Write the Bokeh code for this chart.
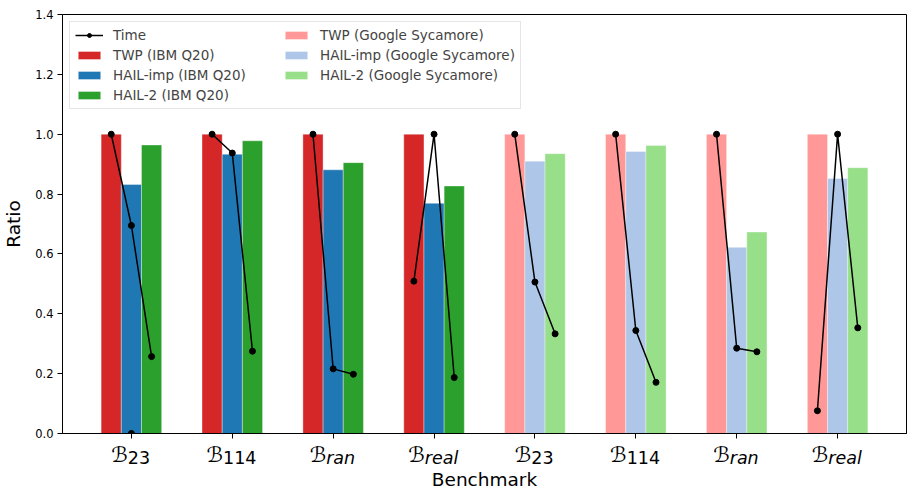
import numpy as np
from bokeh.plotting import figure
from bokeh.layouts import column
from bokeh.models import ColumnDataSource, FixedTicker, Legend, LegendItem, Range1d
from bokeh.core.properties import value
from bokeh.transform import dodge
from bokeh.embed import file_html
from bokeh.resources import INLINE

# ---- data ----
bench_main = ["ℬ"] * 8
bench_sub = ["23", "114", "ran", "real", "23", "114", "ran", "real"]
device = ["IBM Q20"] * 4 + ["Google Sycamore"] * 4
twp = [1.0, 1.0, 1.0, 1.0, 1.0, 1.0, 1.0, 1.0]
hail_imp = [0.832, 0.933, 0.881, 0.769, 0.910, 0.942, 0.622, 0.852]
hail_2 = [0.964, 0.978, 0.905, 0.827, 0.935, 0.962, 0.673, 0.888]
time_twp = [1.0, 1.0, 1.0, 0.509, 1.0, 1.0, 1.0, 0.076]
time_imp = [0.695, 0.937, 0.216, 1.0, 0.506, 0.344, 0.285, 1.0]
time_h2 = [0.257, 0.275, 0.198, 0.187, 0.333, 0.171, 0.273, 0.353]
time_legend_point = ([0], [0.0])
y_ticks = [0.0, 0.2, 0.4, 0.6, 0.8, 1.0, 1.2, 1.4]
x_label = "Benchmark"
y_label = "Ratio"

colors_ibm = ["#d62728", "#1f77b4", "#2ca02c"]
colors_google = ["#ff9896", "#aec7e8", "#98df8a"]
methods = ["TWP", "HAIL-imp", "HAIL-2"]
offsets = [-0.2, 0.0, 0.2]
bar_w = 0.2

idx = list(range(len(bench_sub)))
FONT = "DejaVu Sans"
XR = Range1d(-0.683, 7.683)

p = figure(title=None, frame_width=844, frame_height=419, output_backend="svg",
           toolbar_location=None, x_range=XR, y_range=Range1d(0, 1.4),
           min_border_left=53, min_border_right=1, min_border_top=14, min_border_bottom=8)
p.background_fill_color = "white"
p.outline_line_color = "black"
p.outline_line_width = 1
p.xgrid.visible = False
p.ygrid.visible = False

series_cols = ["twp", "imp", "h2"]
bar_items = {}
for dev, cols in [("IBM Q20", colors_ibm), ("Google Sycamore", colors_google)]:
    rows = [i for i in idx if device[i] == dev]
    sub = ColumnDataSource(dict(x=[idx[i] for i in rows],
                                twp=[twp[i] for i in rows],
                                imp=[hail_imp[i] for i in rows],
                                h2=[hail_2[i] for i in rows]))
    for m, col, off, c in zip(methods, series_cols, offsets, cols):
        r = p.vbar(x=dodge("x", off, range=p.x_range), top=col, width=bar_w, bottom=0,
                   source=sub, fill_color=c, line_color="white", line_alpha=0.35, line_width=1)
        bar_items[(m, dev)] = r

# time lines per benchmark
xs, ys = [], []
for i in idx:
    xs.append([i + o for o in offsets])
    ys.append([time_twp[i], time_imp[i], time_h2[i]])
p.multi_line(xs=xs, ys=ys, line_color="black", line_width=1.5)
px = [x for row in xs for x in row]
py = [y for row in ys for y in row]
p.scatter(x=px, y=py, size=6, fill_color="black", line_color="black")
lp = p.line(x=time_legend_point[0], y=time_legend_point[1], line_color="black", line_width=1.5)
lps = p.scatter(x=time_legend_point[0], y=time_legend_point[1], size=6,
                fill_color="black", line_color="black")

items = [LegendItem(label="Time", renderers=[lp, lps])]
for dev in ["IBM Q20", "Google Sycamore"]:
    for m in methods:
        items.append(LegendItem(label=f"{m} ({dev})", renderers=[bar_items[(m, dev)]]))

legend = Legend(items=items, location="top_left", orientation="vertical", nrows=4,
                glyph_width=28, glyph_height=10, label_standoff=10, label_width=165,
                label_text_font=FONT, label_text_font_size="13.5px", label_height=16,
                spacing=4, padding=5, margin=7,
                border_line_color="#cccccc", border_line_width=1,
                background_fill_color="white", background_fill_alpha=0.8)
p.add_layout(legend)

# axes of the main figure
p.yaxis.ticker = FixedTicker(ticks=y_ticks)
p.yaxis.major_label_overrides = {t: f"{t:.1f}" for t in y_ticks}
p.xaxis.ticker = FixedTicker(ticks=idx)
p.xaxis.major_label_overrides = {i: "" for i in idx}
for ax in [p.xaxis[0], p.yaxis[0]]:
    ax.major_tick_in = 0
    ax.major_tick_out = 5
    ax.minor_tick_in = 0
    ax.minor_tick_out = 0
    ax.axis_line_color = "black"
    ax.major_tick_line_color = "black"
    ax.major_label_text_font = FONT
    ax.major_label_text_color = "black"
    ax.axis_label_text_font = FONT
    ax.axis_label_text_font_style = "normal"
    ax.axis_label_text_font_size = "18.5px"
    ax.axis_label_text_color = "black"
p.xaxis.major_label_standoff = 0
p.xaxis.major_label_text_font_size = "0px"
p.yaxis.major_label_text_font_size = "11.5px"
p.yaxis.axis_label = y_label
p.yaxis.axis_label_standoff = 8
p.yaxis.major_label_standoff = 4

# ---- strip below the axes holding the benchmark tick labels and x-axis title ----
STRIP_H = 54
q = figure(title=None, frame_width=844, frame_height=STRIP_H, output_backend="svg",
           toolbar_location=None, x_range=XR, y_range=Range1d(0, STRIP_H),
           min_border_left=53, min_border_right=1, min_border_top=0, min_border_bottom=0)
q.outline_line_color = None
q.xgrid.visible = False
q.ygrid.visible = False
q.axis.visible = False

SUB_PX = 17.5
char_w = {"0": .636, "1": .636, "2": .636, "3": .636, "4": .636,
          "r": .411, "a": .613, "n": .634, "e": .615, "l": .278}
B_W = 15.0
anchors = [(B_W - sum(char_w[c] for c in s) * SUB_PX) / 2.0 for s in bench_sub]
# vertical positions measured up from the strip's bottom edge (pixels)
yb, ysub, ylab = STRIP_H - 13, STRIP_H - 16, STRIP_H - 38
lab_src = ColumnDataSource(dict(x=idx, main=bench_main, dx=anchors, yb=[yb] * len(idx)))
q.text(x="x", y="yb", text="main", x_offset="dx", source=lab_src,
       text_align="right", text_baseline="alphabetic", text_font=value(FONT),
       text_font_size="21px", text_color="black")
num_rows = [i for i in idx if not bench_sub[i].isalpha()]
alp_rows = [i for i in idx if bench_sub[i].isalpha()]
for rows, style in [(num_rows, "normal"), (alp_rows, "italic")]:
    s = ColumnDataSource(dict(x=[idx[i] for i in rows], sub=[bench_sub[i] for i in rows],
                              dx=[anchors[i] for i in rows], ys=[ysub] * len(rows)))
    q.text(x="x", y="ys", text="sub", x_offset="dx", source=s,
           text_align="left", text_baseline="alphabetic", text_font=value(FONT),
           text_font_size=f"{SUB_PX}px", text_font_style=style, text_color="black")
q.text(x=[(XR.start + XR.end) / 2.0], y=[ylab], text=[x_label], text_align="center",
       text_baseline="alphabetic", text_font=value(FONT), text_font_size="18.5px",
       text_color="black")

layout = column(p, q, spacing=0)
open("out.html", "w").write(file_html(layout, INLINE))
